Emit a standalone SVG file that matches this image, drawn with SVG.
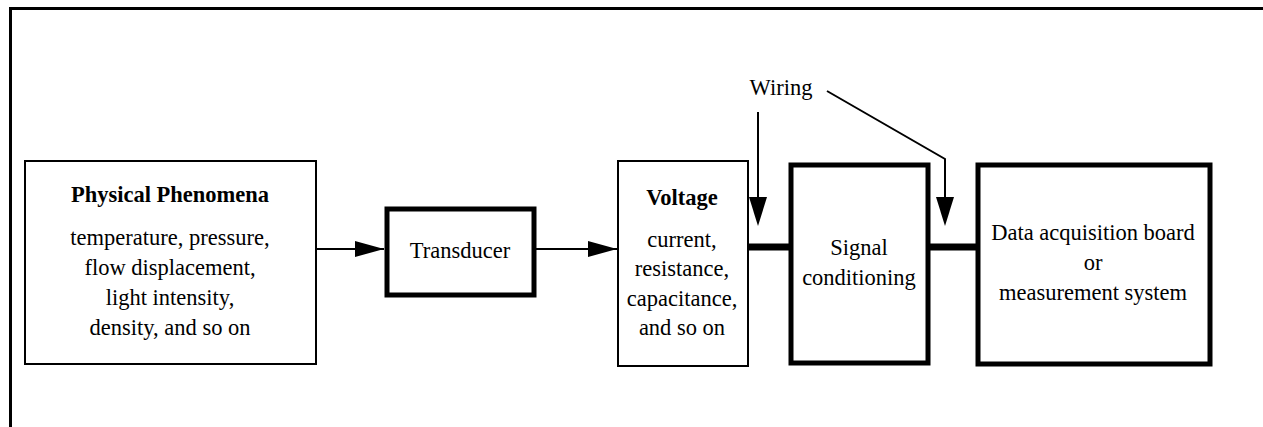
<svg xmlns="http://www.w3.org/2000/svg" width="1263" height="427" viewBox="0 0 1263 427">
<style>
text{font-family:"Liberation Serif","Times New Roman",serif;font-size:22.5px;fill:#000;text-anchor:middle}
.b{font-weight:bold}
.thin{fill:#fff;stroke:#000;stroke-width:2}
.thick{fill:#fff;stroke:#000;stroke-width:5}
.ln{stroke:#000;stroke-width:2;fill:none}
.wire{stroke:#000;stroke-width:7;fill:none}
.head{fill:#000}
</style>
<defs>
<marker id="ah" markerWidth="30" markerHeight="16" refX="29" refY="8" orient="auto" markerUnits="userSpaceOnUse">
<path d="M0,0 L29,8 L0,16 Z" fill="#000"/>
</marker>
</defs>
<rect width="1263" height="427" fill="#fff"/>
<g id="frame">
<path d="M10.5,427 V8.5 H1263" fill="none" stroke="#000" stroke-width="3"/>
</g>
<g id="physical">
<rect class="thin" x="25" y="161" width="291" height="203"/>
<text class="b" x="170" y="202">Physical Phenomena</text>
<text x="170" y="245">temperature, pressure,</text>
<text x="170" y="275">flow displacement,</text>
<text x="170" y="305">light intensity,</text>
<text x="170" y="335">density, and so on</text>
</g>
<g id="transducer">
<rect class="thick" x="387" y="209" width="147" height="86"/>
<text x="460" y="258">Transducer</text>
</g>
<g id="voltage">
<rect class="thin" x="618" y="161" width="130" height="205"/>
<text class="b" x="682" y="205">Voltage</text>
<text x="682" y="247">current,</text>
<text x="682" y="276">resistance,</text>
<text x="682" y="306">capacitance,</text>
<text x="682" y="335">and so on</text>
</g>
<g id="signal">
<rect class="thick" x="791" y="165" width="137" height="198"/>
<text x="859" y="255">Signal</text>
<text x="859" y="285">conditioning</text>
</g>
<g id="daq">
<rect class="thick" x="978" y="165" width="232" height="199"/>
<text x="1093" y="240">Data acquisition board</text>
<text x="1093" y="270">or</text>
<text x="1093" y="300">measurement system</text>
</g>
<g id="wiring-label">
<text x="781" y="95">Wiring</text>
</g>
<g id="connectors">
<line class="ln" x1="316" y1="249" x2="384" y2="249" marker-end="url(#ah)"/>
<line class="ln" x1="536" y1="249" x2="617" y2="249" marker-end="url(#ah)"/>
<line class="wire" x1="748" y1="247" x2="791" y2="247"/>
<line class="wire" x1="928" y1="247" x2="978" y2="247"/>
<path d="M758,112 V197" class="ln"/>
<path class="head" d="M749,197 L767,197 L758,226 Z"/>
<path d="M827,91 L945,159 V197" class="ln"/>
<path class="head" d="M936,197 L954,197 L945,226 Z"/>
</g>
</svg>
